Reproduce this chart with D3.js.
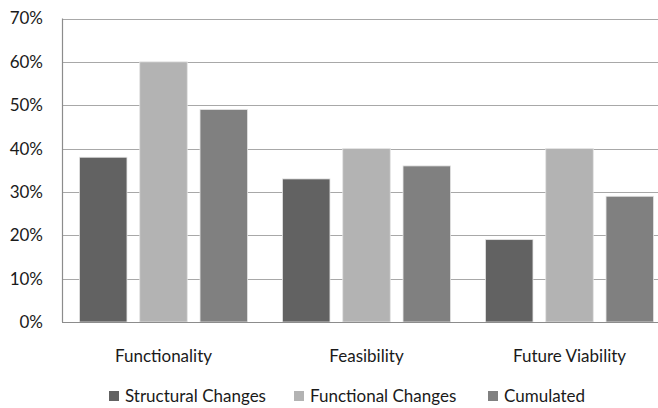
<!DOCTYPE html>
<html><head><meta charset="utf-8">
<script src="https://cdn.jsdelivr.net/npm/d3@7"></script>
<style>body{margin:0;background:#fff}svg{display:block}text{font-family:Lato,"Open Sans",sans-serif;fill:#1a1a1a}</style>
</head><body><svg id="c" width="658" height="408"></svg>
<script>
const categories = ["Functionality", "Feasibility", "Future Viability"];
const seriesNames = ["Structural Changes", "Functional Changes", "Cumulated"];
const structural = [38, 33, 19];
const functional = [60, 40, 40];
const cumulated = [49, 36, 29];
const yTicks = [0, 10, 20, 30, 40, 50, 60, 70];
const colors = ["#626262", "#b3b3b3", "#808080"];

const series = [structural, functional, cumulated];
const svg = d3.select("#c");
const mLeft = 62, mTop = 18.5, mBottom = 322, plotW = 609;

const x0 = d3.scaleBand().domain(categories).range([mLeft, mLeft + plotW]).paddingInner(0).paddingOuter(0);
const x1 = d3.scaleBand().domain(seriesNames).range([0, x0.bandwidth()]).paddingInner(0.212).paddingOuter(0.29);
const y = d3.scaleLinear().domain([0, 70]).range([mBottom, mTop]);

// gridlines
svg.append("g").selectAll("line").data(yTicks.filter(t => t > 0)).join("line")
  .attr("x1", mLeft).attr("x2", mLeft + plotW)
  .attr("y1", d => Math.round(y(d)) + 0.5).attr("y2", d => Math.round(y(d)) + 0.5)
  .attr("stroke", "#a8a8a8").attr("stroke-width", 1.2);

// bars
const g = svg.append("g");
categories.forEach((c, ci) => {
  series.forEach((s, si) => {
    g.append("rect")
      .attr("x", x0(c) + x1(seriesNames[si]))
      .attr("y", y(s[ci]))
      .attr("width", x1.bandwidth())
      .attr("height", y(0) - y(s[ci]))
      .attr("fill", colors[si])
      .attr("stroke", "#e4e4e4").attr("stroke-width", 0.8);
  });
});

// axes
const yAxis = d3.axisLeft(y).tickValues(yTicks).tickFormat(d => d + "%").tickSize(0).tickPadding(0);
const ya = svg.append("g").attr("transform", `translate(${mLeft},0)`).call(yAxis);
ya.select(".domain").remove();
ya.selectAll("text").attr("x", -19).attr("font-size", 17).attr("font-family", "Lato").style("fill", "#1a1a1a");
svg.append("line").attr("x1", mLeft + 0.5).attr("x2", mLeft + 0.5).attr("y1", mTop).attr("y2", mBottom).attr("stroke", "#8c8c8c").attr("stroke-width", 1.2);
svg.append("line").attr("x1", mLeft).attr("x2", mLeft + plotW).attr("y1", mBottom + 0.5).attr("y2", mBottom + 0.5).attr("stroke", "#8c8c8c").attr("stroke-width", 1.2);

const xAxis = d3.axisBottom(x0).tickSize(0).tickPadding(0);
const xa = svg.append("g").attr("transform", `translate(0,${mBottom})`).call(xAxis);
xa.select(".domain").remove();
xa.selectAll("text").attr("y", 40).attr("dy", 0).attr("font-size", 17).attr("font-family", "Lato").style("fill", "#1a1a1a");

// legend
const legX = [109, 294, 488];
const leg = svg.append("g");
seriesNames.forEach((n, i) => {
  leg.append("rect").attr("x", legX[i]).attr("y", 391).attr("width", 10).attr("height", 10).attr("fill", colors[i]);
  leg.append("text").attr("x", legX[i] + 16).attr("y", 402).attr("font-size", 17).text(n);
});
</script></body></html>
